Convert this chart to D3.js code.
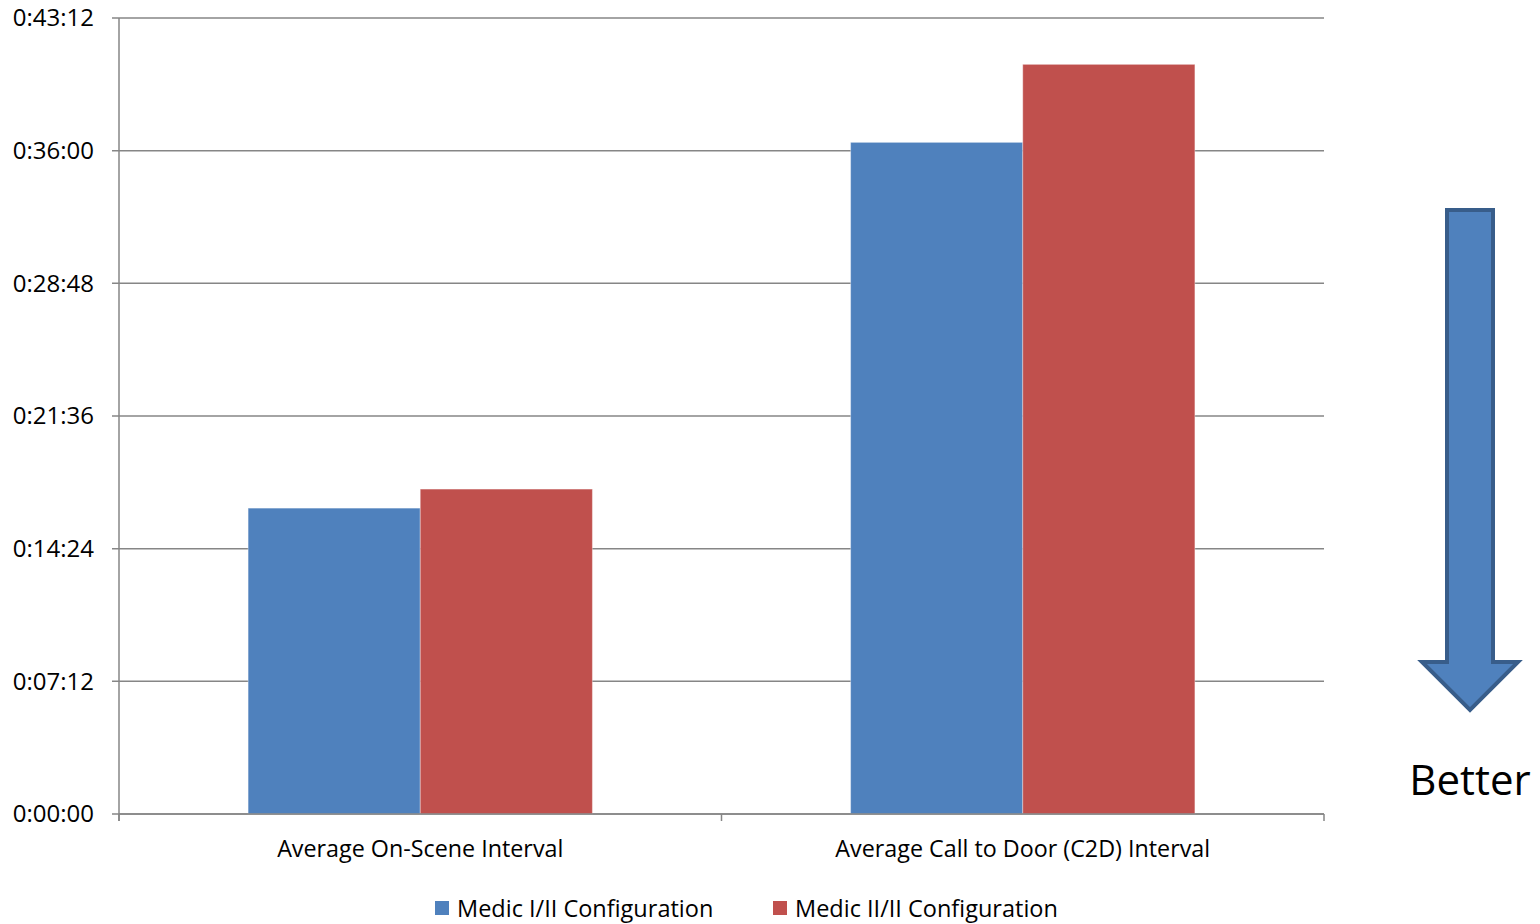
<!DOCTYPE html>
<html>
<head>
<meta charset="utf-8">
<script src="https://cdn.jsdelivr.net/npm/d3@7"></script>
<style>
  html, body { margin: 0; padding: 0; background: #fff; }
  svg { display: block; font-family: "Open Sans", "Lato", sans-serif; }
</style>
</head>
<body>
<svg id="chart" width="1540" height="924"></svg>
<script>
const categories = ["Average On-Scene Interval", "Average Call to Door (C2D) Interval"];
const seriesNames = ["Medic I/II Configuration", "Medic II/II Configuration"];
// values in seconds (h:mm:ss)
const medicOneTwo = [996, 2187];   // 0:16:36, 0:36:27
const medicTwoTwo = [1058, 2441];  // 0:17:38, 0:40:41
const yTicks = [0, 432, 864, 1296, 1728, 2160, 2592];
const yTickLabels = ["0:00:00", "0:07:12", "0:14:24", "0:21:36", "0:28:48", "0:36:00", "0:43:12"];
const seriesColors = ["#4f81bd", "#c0504d"];

const svg = d3.select("#chart");
const plot = { left: 119, right: 1324, top: 18, bottom: 814 };

const y = d3.scaleLinear().domain([0, 2592]).range([plot.bottom, plot.top]);
const x0 = d3.scaleBand().domain(categories).range([plot.left, plot.right])
  .paddingInner(0.4286).paddingOuter(0.2143);
const x1 = d3.scaleBand().domain(seriesNames).range([0, x0.bandwidth()]);

const gridColor = "#868686";

// gridlines
svg.append("g").selectAll("line").data(yTicks).join("line")
  .attr("x1", plot.left - 7).attr("x2", plot.right)
  .attr("y1", d => y(d)).attr("y2", d => y(d))
  .attr("stroke", gridColor).attr("stroke-width", 1.5);

// y axis line
svg.append("line")
  .attr("x1", plot.left).attr("x2", plot.left)
  .attr("y1", plot.top).attr("y2", plot.bottom + 7)
  .attr("stroke", gridColor).attr("stroke-width", 1.5);

// y tick labels
svg.append("g").selectAll("text").data(yTicks).join("text")
  .attr("x", 94).attr("y", d => y(d))
  .attr("dy", "0.35em")
  .attr("text-anchor", "end")
  .attr("font-size", 24)
  .attr("fill", "#000")
  .text((d, i) => yTickLabels[i]);

// bars
const data = categories.map((c, i) => ({ cat: c, vals: [medicOneTwo[i], medicTwoTwo[i]] }));
const groups = svg.append("g").selectAll("g").data(data).join("g")
  .attr("transform", d => `translate(${x0(d.cat)},0)`);
groups.selectAll("rect").data(d => d.vals.map((v, j) => ({ v, s: seriesNames[j], j })))
  .join("rect")
  .attr("x", d => x1(d.s))
  .attr("width", x1.bandwidth())
  .attr("y", d => y(d.v))
  .attr("height", d => y(0) - y(d.v))
  .attr("fill", d => seriesColors[d.j])
  .attr("stroke", "rgba(255,255,255,0.35)")
  .attr("stroke-width", 1);

// x axis line + ticks
svg.append("line")
  .attr("x1", plot.left).attr("x2", plot.right)
  .attr("y1", plot.bottom).attr("y2", plot.bottom)
  .attr("stroke", gridColor).attr("stroke-width", 1.5);
const xTickPos = [plot.left, ...categories.slice(1).map(c => x0(c) - x0.step() * x0.paddingInner() / 2), plot.right];
svg.append("g").selectAll("line").data(xTickPos).join("line")
  .attr("x1", d => d).attr("x2", d => d)
  .attr("y1", plot.bottom).attr("y2", plot.bottom + 7)
  .attr("stroke", gridColor).attr("stroke-width", 1.5);

// x category labels
svg.append("g").selectAll("text").data(categories).join("text")
  .attr("x", d => x0(d) + x0.bandwidth() / 2)
  .attr("y", 857)
  .attr("text-anchor", "middle")
  .attr("font-size", 23.3)
  .attr("fill", "#000")
  .text(d => d);

// legend
const legendX = [435, 773];
const lg = svg.append("g").selectAll("g").data(seriesNames).join("g")
  .attr("transform", (d, i) => `translate(${legendX[i]},0)`);
lg.append("rect").attr("x", 0).attr("y", 901).attr("width", 14).attr("height", 14)
  .attr("fill", (d, i) => seriesColors[i]);
lg.append("text").attr("x", 22).attr("y", 917)
  .attr("font-size", 23.5).attr("fill", "#000").text(d => d);

// "Better" arrow
const ax = 1470;
const arrowPts = [
  [ax - 23, 210], [ax + 23, 210], [ax + 23, 662], [ax + 48, 662],
  [ax, 710], [ax - 48, 662], [ax - 23, 662]
];
svg.append("path")
  .attr("d", d3.line()(arrowPts) + "Z")
  .attr("fill", "#4f81bd")
  .attr("stroke", "#385d8a")
  .attr("stroke-width", 4)
  .attr("stroke-linejoin", "miter");

svg.append("text")
  .attr("x", ax).attr("y", 795)
  .attr("text-anchor", "middle")
  .attr("font-size", 42)
  .attr("fill", "#000")
  .text("Better");
</script>
</body>
</html>
